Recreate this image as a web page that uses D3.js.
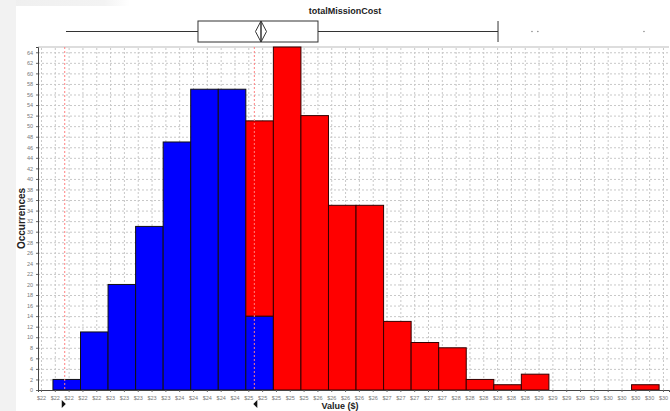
<!DOCTYPE html>
<html>
<head>
<meta charset="utf-8">
<script src="https://cdn.jsdelivr.net/npm/d3@7"></script>
<style>
  body { margin: 0; background: #ffffff; }
  svg { display: block; font-family: "Liberation Sans", Arial, sans-serif; }
</style>
</head>
<body>
<div id="chart"></div>
<script>
// histogram bins (value in $ thousands, equal width)
const binMin = 21.769;
const binWidth = 0.3887;
const lowerCounts = [2, 11, 20, 31, 47, 57, 57, 14, 0, 0, 0, 0, 0, 0, 0, 0, 0, 0, 0, 0, 0, 0];
const upperCounts = [0, 0, 0, 0, 0, 0, 0, 37, 65, 52, 35, 35, 13, 9, 8, 2, 1, 3, 0, 0, 0, 1];

// x tick labels as printed under the axis
const tickStart = 21.6;
const tickStep = 0.195;
const xTickLabels = [
  "$22", "$22", "$22", "$22", "$22", "$23", "$23", "$23", "$23", "$23",
  "$24", "$24", "$24", "$24", "$24", "$25", "$25", "$25", "$25", "$25",
  "$26", "$26", "$26", "$26", "$26", "$27", "$27", "$27", "$27", "$27",
  "$28", "$28", "$28", "$28", "$28", "$28", "$29", "$29", "$29", "$29",
  "$29", "$30", "$30", "$30", "$30", "$30"
];

// box plot summary
const boxStats = { low: 21.953, q1: 23.815, median: 24.704, q3: 25.508, high: 28.048, notchLo: 24.626, notchHi: 24.782 };
const outliers = [28.527, 28.61, 30.107];

// selection markers (red dashed lines + triangles)
const markers = [21.935, 24.61];

const W = 670, H = 411;
const mLeft = 38, mRight = 669, mTop = 47, mBottom = 390;

const svg = d3.select("#chart").append("svg")
  .attr("width", W).attr("height", H);

// window edge shading
const grad = svg.append("defs").append("linearGradient").attr("id", "fade");
grad.append("stop").attr("offset", "0%").attr("stop-color", "#efefef");
grad.append("stop").attr("offset", "80%").attr("stop-color", "#f3f3f3");
grad.append("stop").attr("offset", "100%").attr("stop-color", "#ffffff");
svg.append("rect").attr("x", 0).attr("y", 0).attr("width", 130).attr("height", 6).attr("fill", "url(#fade)");
svg.append("rect").attr("x", 0).attr("y", 0).attr("width", 16).attr("height", H).attr("fill", "#f2f2f2");

const x = d3.scaleLinear().domain([21.558, 30.46]).range([mLeft, mRight]);
const y = d3.scaleLinear().domain([0, 65]).range([mBottom, mTop]);

const xTicks = xTickLabels.map((d, i) => tickStart + i * tickStep);
const yTicks = d3.range(0, 65, 2);

// grid
svg.append("g")
  .attr("transform", `translate(0,${mBottom})`)
  .call(d3.axisBottom(x).tickValues(xTicks).tickSize(-(mBottom - mTop)).tickFormat(""))
  .call(g => g.select(".domain").remove())
  .selectAll("line")
  .attr("stroke", "#c8c8c8")
  .attr("stroke-dasharray", "2,2");

svg.append("g")
  .attr("transform", `translate(${mLeft},0)`)
  .call(d3.axisLeft(y).tickValues(yTicks).tickSize(-(mRight - mLeft)).tickFormat(""))
  .call(g => g.select(".domain").remove())
  .selectAll("line")
  .attr("stroke", "#c8c8c8")
  .attr("stroke-dasharray", "2,2");

// top border
svg.append("line")
  .attr("x1", mLeft).attr("x2", mRight).attr("y1", mTop).attr("y2", mTop)
  .attr("stroke", "#bbbbbb");

// bars
const bins = lowerCounts.map((d, i) => ({
  x0: binMin + i * binWidth,
  x1: binMin + (i + 1) * binWidth,
  lower: d,
  upper: upperCounts[i]
}));

svg.selectAll(".lower")
  .data(bins.filter(d => d.lower > 0))
  .enter().append("rect")
  .attr("class", "lower")
  .attr("x", d => x(d.x0))
  .attr("width", d => x(d.x1) - x(d.x0))
  .attr("y", d => y(d.lower))
  .attr("height", d => y(0) - y(d.lower))
  .attr("fill", "#0000ff")
  .attr("stroke", "#111111")
  .attr("stroke-width", 1);

svg.selectAll(".upper")
  .data(bins.filter(d => d.upper > 0))
  .enter().append("rect")
  .attr("class", "upper")
  .attr("x", d => x(d.x0))
  .attr("width", d => x(d.x1) - x(d.x0))
  .attr("y", d => y(d.lower + d.upper))
  .attr("height", d => y(d.lower) - y(d.lower + d.upper))
  .attr("fill", "#ff0000")
  .attr("stroke", "#330000")
  .attr("stroke-width", 1);

// marker lines
svg.selectAll(".marker")
  .data(markers)
  .enter().append("line")
  .attr("x1", d => x(d)).attr("x2", d => x(d))
  .attr("y1", mTop).attr("y2", mBottom)
  .attr("stroke", "#ff8080")
  .attr("stroke-width", 1)
  .attr("stroke-dasharray", "2,2");

// axes
const xAxis = svg.append("g")
  .attr("transform", `translate(0,${mBottom})`)
  .call(d3.axisBottom(x).tickValues(xTicks).tickSize(2).tickFormat((d, i) => xTickLabels[i]));
xAxis.select(".domain").attr("stroke", "#444444");
xAxis.selectAll("line").attr("stroke", "#666666");
xAxis.selectAll("text")
  .attr("font-size", "5.5px")
  .attr("fill", "#777777")
  .attr("dy", "0.9em");

const yAxis = svg.append("g")
  .attr("transform", `translate(${mLeft},0)`)
  .call(d3.axisLeft(y).tickValues(yTicks).tickSize(2));
yAxis.select(".domain").attr("stroke", "#444444");
yAxis.selectAll("line").attr("stroke", "#666666");
yAxis.selectAll("text")
  .attr("font-size", "5.5px")
  .attr("fill", "#777777");

// triangles under axis
const triY = 404;
svg.selectAll(".tri")
  .data(markers)
  .enter().append("path")
  .attr("d", (d, i) => {
    const px = x(d);
    return i === 0
      ? `M${px - 3},${triY - 4}L${px + 1},${triY}L${px - 3},${triY + 4}Z`
      : `M${px + 3},${triY - 4}L${px - 1},${triY}L${px + 3},${triY + 4}Z`;
  })
  .attr("fill", "#111111");

// labels
svg.append("text")
  .attr("x", 340).attr("y", 409)
  .attr("text-anchor", "middle")
  .attr("font-size", "9px")
  .attr("font-weight", "bold")
  .attr("fill", "#222222")
  .text("Value ($)");

svg.append("text")
  .attr("transform", `translate(25,${(mTop + mBottom) / 2}) rotate(-90)`)
  .attr("text-anchor", "middle")
  .attr("font-size", "10px")
  .attr("font-weight", "bold")
  .attr("fill", "#222222")
  .text("Occurrences");

svg.append("text")
  .attr("x", 345).attr("y", 14)
  .attr("text-anchor", "middle")
  .attr("font-size", "9px")
  .attr("font-weight", "bold")
  .attr("fill", "#222222")
  .text("totalMissionCost");

// box plot
const bY0 = 21, bY1 = 42, bMid = (bY0 + bY1) / 2;
const box = svg.append("g").attr("stroke", "#333333").attr("fill", "none");
box.append("line")
  .attr("x1", x(boxStats.low)).attr("x2", x(boxStats.q1))
  .attr("y1", bMid).attr("y2", bMid);
box.append("line")
  .attr("x1", x(boxStats.q3)).attr("x2", x(boxStats.high))
  .attr("y1", bMid).attr("y2", bMid);
box.append("line")
  .attr("x1", x(boxStats.high)).attr("x2", x(boxStats.high))
  .attr("y1", bY0).attr("y2", bY1);
box.append("rect")
  .attr("x", x(boxStats.q1)).attr("y", bY0)
  .attr("width", x(boxStats.q3) - x(boxStats.q1))
  .attr("height", bY1 - bY0)
  .attr("fill", "#ffffff");
box.append("path")
  .attr("d", `M${x(boxStats.notchLo)},${bMid}L${x(boxStats.median)},${bY0}L${x(boxStats.notchHi)},${bMid}L${x(boxStats.median)},${bY1}Z`);
box.append("line")
  .attr("x1", x(boxStats.median)).attr("x2", x(boxStats.median))
  .attr("y1", bY0).attr("y2", bY1)
  .attr("stroke-width", 1.5);

svg.selectAll(".outlier")
  .data(outliers)
  .enter().append("circle")
  .attr("cx", d => x(d))
  .attr("cy", bMid)
  .attr("r", 0.8)
  .attr("fill", "#888888");
</script>
</body>
</html>
